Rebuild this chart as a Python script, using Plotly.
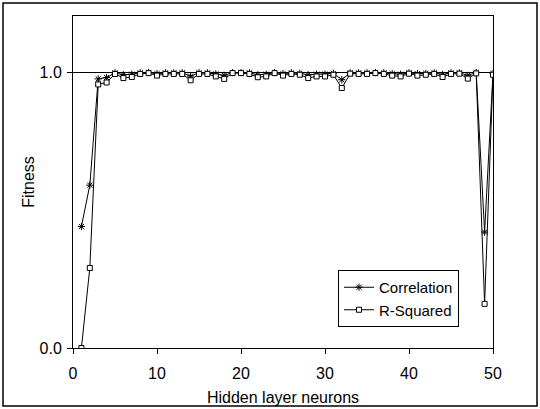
import plotly.graph_objects as go

neurons = list(range(1, 51))
correlation = [0.44, 0.59, 0.975, 0.98, 0.997, 0.99, 0.992, 0.997, 0.998, 0.994,
               0.997, 0.997, 0.997, 0.985, 0.997, 0.997, 0.993, 0.988, 0.998, 0.998,
               0.997, 0.99, 0.992, 0.998, 0.994, 0.997, 0.995, 0.99, 0.992, 0.992,
               0.995, 0.972, 0.997, 0.997, 0.997, 0.998, 0.997, 0.994, 0.992, 0.997,
               0.994, 0.995, 0.997, 0.991, 0.997, 0.997, 0.988, 0.998, 0.42, 0.995]
r_squared = [0.0, 0.29, 0.955, 0.962, 0.993, 0.978, 0.982, 0.993, 0.996, 0.987,
             0.993, 0.993, 0.993, 0.970, 0.993, 0.993, 0.984, 0.975, 0.996, 0.996,
             0.993, 0.981, 0.984, 0.996, 0.987, 0.993, 0.990, 0.978, 0.984, 0.984,
             0.990, 0.942, 0.994, 0.993, 0.993, 0.996, 0.993, 0.987, 0.984, 0.994,
             0.987, 0.990, 0.993, 0.982, 0.993, 0.994, 0.976, 0.995, 0.16, 0.99]

x_ticks = [0, 10, 20, 30, 40, 50]
y_ticks = [0.0, 1.0]
y_ticklabels = ["0.0", "1.0"]

font = dict(family="Liberation Sans, Arial, sans-serif", size=16, color="black")
legend_font = dict(family="Liberation Sans, Arial, sans-serif", size=15, color="black")

L, R, T, B = 73, 47, 16, 61
PW, PH = 540 - L - R, 409 - T - B

fig = go.Figure()
fig.add_trace(go.Scatter(
    x=neurons, y=correlation, name="Correlation", mode="lines+markers",
    line=dict(color="black", width=1),
    marker=dict(symbol="asterisk-open", size=6, color="black",
                line=dict(color="black", width=1)),
))
fig.add_trace(go.Scatter(
    x=neurons, y=r_squared, name="R-Squared", mode="lines+markers",
    line=dict(color="black", width=1),
    marker=dict(symbol="square", size=5, color="white",
                line=dict(color="black", width=1)),
))

fig.update_layout(
    width=540, height=409,
    margin=dict(l=L, r=R, t=T, b=B),
    paper_bgcolor="white", plot_bgcolor="white",
    font=font,
    showlegend=True,
    legend=dict(x=(338 - L) / PW, y=(348 - 327) / PH, xanchor="left", yanchor="bottom",
                bordercolor="black", borderwidth=1, bgcolor="white",
                font=legend_font, itemwidth=30, tracegroupgap=0),
    xaxis=dict(range=[0, 50], tickvals=x_ticks, showgrid=False, zeroline=False,
               showline=True, linecolor="black", linewidth=1, mirror=True,
               ticks="outside", ticklen=5, tickcolor="black", ticklabelstandoff=6,
               automargin=False,
               title=dict(text="Hidden layer neurons", standoff=10, font=font)),
    yaxis=dict(range=[0, PH / 276], tickvals=y_ticks, ticktext=y_ticklabels,
               showgrid=True, gridcolor="black", gridwidth=1, zeroline=False,
               showline=True, linecolor="black", linewidth=1, mirror=True,
               ticks="outside", ticklen=5, tickcolor="black", ticklabelstandoff=2,
               automargin=False,
               title=dict(text="Fitness", standoff=0, font=font)),
    shapes=[dict(type="rect", xref="paper", yref="paper",
                 x0=(3 - L) / PW, x1=(537 - L) / PW,
                 y0=-(406 - 348) / PH, y1=1 + (T - 3) / PH,
                 line=dict(color="black", width=1.5), layer="below")],
)

fig.write_html("out.html")
